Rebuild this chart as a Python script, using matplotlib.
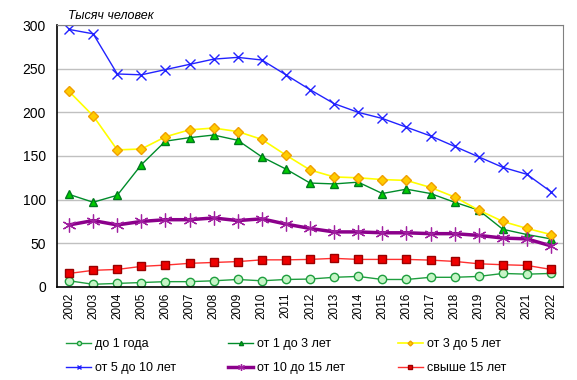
"""Численность по стажу: линейная диаграмма 2002-2022."""

import matplotlib.pyplot as plt
import numpy as np

plt.rcParams["font.family"] = ["Liberation Sans", "DejaVu Sans"]

years = [str(y) for y in range(2002, 2023)]

under_1 = [7, 3, 4, 5, 6, 6, 7, 8.5, 7, 8.5, 9, 11, 12, 8.5, 8.5, 11, 11, 12, 15.4, 14.6, 15.4]
from_1_to_3 = [106, 97, 105, 140, 167, 171, 174, 168, 149, 135, 119, 118, 120, 107, 112, 107,
               97, 88, 66, 60, 55]
from_3_to_5 = [224, 196, 157, 158, 172, 180, 182, 178, 169, 151, 134, 126, 125, 123, 122, 114,
               103, 88, 75, 67, 60]
from_5_to_10 = [295, 290, 244, 243, 249, 255, 261, 263, 260, 243, 226, 210, 200, 193, 183, 173,
                161, 149, 137, 129, 109]
from_10_to_15 = [71, 76, 71, 75, 77, 77, 79, 76, 78, 72, 67, 63, 63, 62, 62, 61, 61, 59, 56,
                 55, 47]
over_15 = [15.4, 19, 20, 23.5, 25, 27, 28, 29, 31, 31, 31.5, 32.7, 31.5, 31.5, 31.5, 30.7, 29.2,
           26.5, 25.4, 24.6, 20]

labels = ["до 1 года", "от 1 до 3 лет", "от 3 до 5 лет",
          "от 5 до 10 лет", "от 10 до 15 лет", "свыше 15 лет"]


def main() -> None:
    fig = plt.figure(figsize=(5.77, 3.80), dpi=100)
    ax = fig.add_axes([0.0988, 0.245, 0.877, 0.689])
    x = np.arange(len(years))

    styles = [
        (under_1, dict(color="#1f9e3f", lw=1, marker="o", ms=6, mfc="#c6f5c6", mec="#1f9e3f")),
        (from_1_to_3, dict(color="#008c2a", lw=1, marker="^", ms=6, mfc="#00cc00", mec="#007a1e")),
        (from_3_to_5, dict(color="#ffff00", lw=1.2, marker="D", ms=5, mfc="#ffcc00", mec="#f0a000")),
        (from_5_to_10, dict(color="#2222ff", lw=1, marker="x", ms=7, mew=1, mec="#2222ff")),
        (from_10_to_15, dict(color="#8b008b", lw=2.5, marker=(6, 2, 0), ms=10, mew=0.9, mec="#a020a0")),
        (over_15, dict(color="#ff3030", lw=1, marker="s", ms=6, mfc="#ee0000", mec="#990000")),
    ]
    handles = []
    for (values, kw), label in zip(styles, labels):
        (h,) = ax.plot(x, values, label=label, **kw)
        handles.append(h)

    ax.set_xlim(-0.5, len(years) - 0.5)
    ax.set_ylim(0, 300)
    ax.set_yticks(range(0, 301, 50))
    ax.set_xticks(x)
    ax.set_xticklabels(years, rotation=90, fontsize=8.5)
    ax.tick_params(axis="y", labelsize=10, length=0, pad=8)
    ax.tick_params(axis="x", length=0, pad=4)
    ax.grid(axis="y", color="#c0c0c0", lw=1)
    ax.set_axisbelow(True)
    for side in ("top", "right"):
        ax.spines[side].set_color("#808080")
    for side in ("left", "bottom"):
        ax.spines[side].set_color("black")
        ax.spines[side].set_linewidth(1.2)

    fig.text(0.117, 0.958, "Тысяч человек", style="italic", fontsize=9, va="center")

    # Legend rows: fill by row instead of matplotlib's column order
    order = [0, 3, 1, 4, 2, 5]
    fig.legend([handles[i] for i in order], [labels[i] for i in order],
               loc="upper left", bbox_to_anchor=(0.095, 0.14), ncol=3, frameon=False,
               fontsize=9, handlelength=2.0, columnspacing=4.2, markerscale=0.5,
               labelspacing=0.95, handletextpad=0.3)

    fig.savefig("out.png", dpi=100)


if __name__ == "__main__":
    main()
